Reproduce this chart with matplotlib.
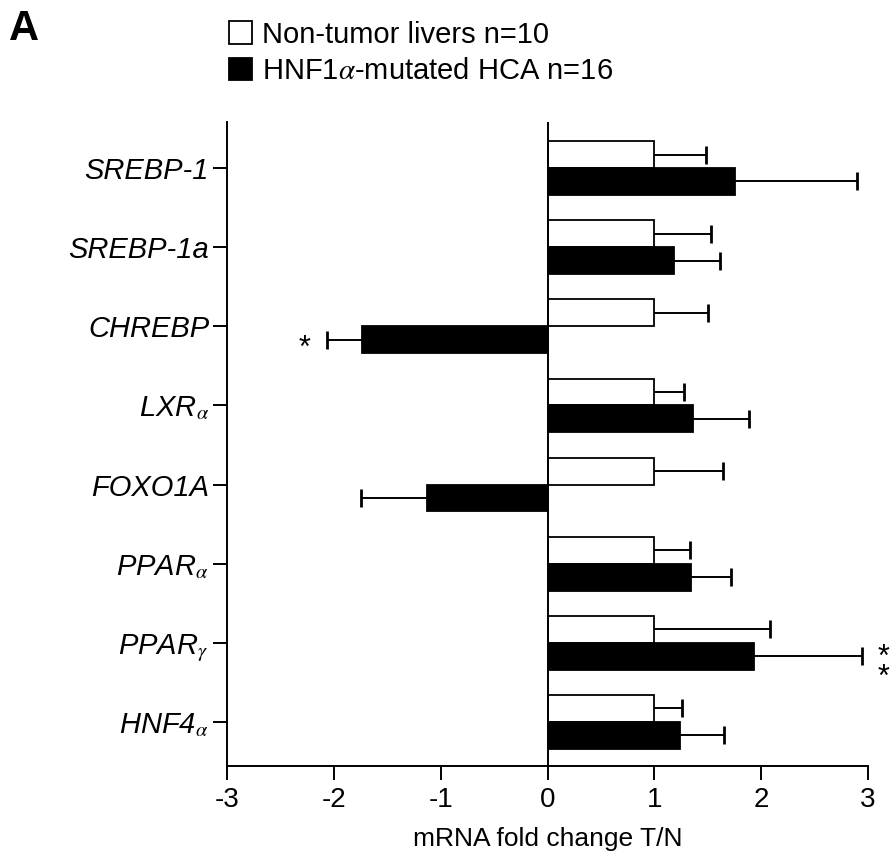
import matplotlib
matplotlib.use("Agg")
import matplotlib.pyplot as plt
import matplotlib.patches as mpatches
import numpy as np

plt.rcParams['font.family'] = ['Liberation Sans', 'DejaVu Sans']
plt.rcParams['mathtext.fontset'] = 'stix'

# Data
genes = ['SREBP-1', 'SREBP-1a', 'CHREBP', r'LXR$_\alpha$', 'FOXO1A',
         r'PPAR$_\alpha$', r'PPAR$_\gamma$', r'HNF4$_\alpha$']
normal_val = [1.0, 1.0, 1.0, 1.0, 1.0, 1.0, 1.0, 1.0]
normal_err = [0.48, 0.53, 0.50, 0.28, 0.64, 0.33, 1.08, 0.26]
hca_val = [1.75, 1.18, -1.74, 1.36, -1.13, 1.34, 1.93, 1.24]
hca_err = [1.15, 0.43, 0.32, 0.53, 0.62, 0.38, 1.01, 0.41]
signif = ['', '', '*', '', '', '', '**', '']

fig = plt.figure(figsize=(8.94, 8.6), dpi=100)
ax = fig.add_axes([0.254, 0.109, 0.717, 0.749])

y = np.arange(len(genes))
h = 0.34


def outward_errors(vals, errs, ypos):
    # one-sided error bar pointing away from zero, cap only at the far end
    vals = np.asarray(vals)
    ends = vals + np.sign(vals) * np.asarray(errs)
    ax.hlines(ypos, vals, ends, color='black', linewidth=1.4, zorder=1)
    ax.plot(ends, ypos, linestyle='none', marker='|', markersize=13,
            markeredgewidth=2.0, color='black', zorder=1)


ax.barh(y - h / 2, normal_val, height=h, color='white', edgecolor='black', linewidth=1.3, zorder=2)
ax.barh(y + h / 2, hca_val, height=h, color='black', edgecolor='black', linewidth=1.3, zorder=2)
outward_errors(normal_val, normal_err, y - h / 2)
outward_errors(hca_val, hca_err, y + h / 2)

# significance stars
for i, s in enumerate(signif):
    if not s:
        continue
    end = hca_val[i] + np.sign(hca_val[i]) * hca_err[i]
    if hca_val[i] < 0:
        ax.text(end - 0.16, y[i] + h / 2 + 0.12, s, ha='right', va='center', fontsize=22)
    else:
        ax.text(end + 0.2, y[i] + h / 2 + 0.15, '\n'.join(s), ha='center', va='center',
                fontsize=22, linespacing=0.55, clip_on=False)

ax.axvline(0, color='black', linewidth=1.4, zorder=3)

ax.set_xlim(-3, 3)
ax.set_ylim(len(genes) - 1 + 0.56, -0.58)
ax.set_xticks([-3, -2, -1, 0, 1, 2, 3])
ax.set_xticklabels(['-3', '-2', '-1', '0', '1', '2', '3'], fontsize=20)
ax.set_yticks(y)
ax.set_yticklabels(genes, fontsize=21, fontstyle='italic')
ax.tick_params(axis='x', direction='out', length=10, width=1.4, pad=5)
ax.tick_params(axis='y', direction='out', length=10, width=1.4, pad=3)
ax.spines['top'].set_visible(False)
ax.spines['right'].set_visible(False)
for sp in ['left', 'bottom']:
    ax.spines[sp].set_linewidth(1.4)
ax.set_xlabel('mRNA fold change T/N', fontsize=19, labelpad=10)

# legend
handles = [mpatches.Patch(facecolor='white', edgecolor='black', linewidth=1.3,
                          label='Non-tumor livers n=10'),
           mpatches.Patch(facecolor='black', edgecolor='black', linewidth=1.3,
                          label=r'HNF1$\alpha$-mutated HCA n=16')]
fig.legend(handles=handles, loc='upper left', bbox_to_anchor=(0.256, 0.976), frameon=False,
           fontsize=21, handlelength=0.8, handleheight=0.8, handletextpad=0.35,
           labelspacing=0.3, borderaxespad=0, borderpad=0)

fig.text(0.01, 0.99, 'A', fontsize=30, fontweight='bold', va='top', ha='left')

fig.savefig('out.png', dpi=100)
